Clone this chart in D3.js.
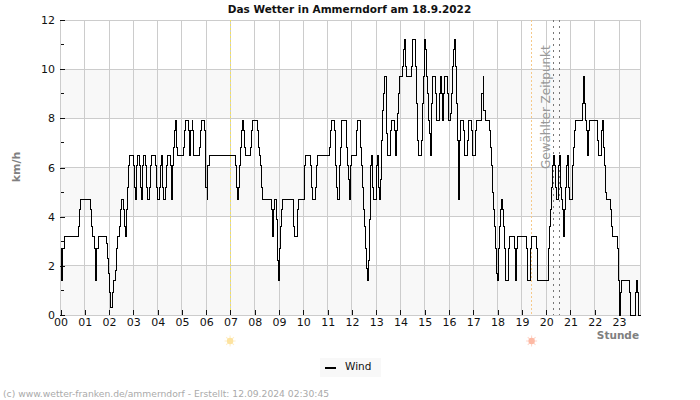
<!DOCTYPE html>
<html>
	<head>
		<meta charset="utf-8">
		<title>Das Wetter in Ammerndorf</title>
		<script src="https://d3js.org/d3.v7.min.js"></script>
		<style>
			html, body { margin: 0; padding: 0; background: #fff; }
			svg { display: block; }
			text { font-family: "DejaVu Sans", sans-serif; }
			line, path, rect { shape-rendering: crispEdges; }
		</style>
	</head>
	<body>
		<svg width="700" height="400"></svg>
		<script type="text/javascript">
		var hourLabels = ["00","01","02","03","04","05","06","07","08","09","10","11","12","13","14","15","16","17","18","19","20","21","22","23"];
		var yMajor = [0, 2, 4, 6, 8, 10, 12];
		var yMinor = [1, 3, 5, 7, 9, 11];
		var bands = [[0, 2], [4, 6], [8, 10]];
		var lastMinute = 1433;

		// wind readings: [minute of the day, km/h], one entry per change
		var wind = [
			[0,2.7],[3,1.4],[6,2.7],[9,3.2],[45,3.6],[46,4.3],[49,4.7],[74,4.3],[77,3.6],[79,3.2],[84,2.7],[87,1.4],[90,2.7],[94,3.2],
			[113,2.9],[116,2.3],[118,1.7],[121,0.9],[123,0.3],[128,0.9],[132,1.4],[136,1.8],[138,2.7],[141,3.2],[146,3.6],[148,4.3],[151,4.7],[156,4.3],[158,3.6],[161,3.2],[163,4.3],[166,5.2],[168,6.1],[171,6.5],
			[180,6.1],[183,5.2],[186,4.7],[188,6.1],[190,6.5],[195,6.1],[198,5.2],[200,4.7],[203,6.1],[205,6.5],[210,6.1],[213,5.2],[215,4.7],[220,5.2],[223,6.1],[225,6.5],[235,6.1],
			[238,5.2],[240,4.7],[245,5.2],[247,6.1],[250,6.5],[252,5.2],[255,4.7],[260,5.2],[262,6.1],[265,6.5],[272,6.1],[275,4.7],[277,6.1],[280,6.8],[282,7.5],[285,7.9],[287,6.8],[290,6.5],
			[305,6.8],[307,7.5],[310,7.9],[317,7.5],[319,6.5],[322,7.5],[325,7.9],[327,7.5],[329,6.5],[344,6.8],[347,7.5],[349,7.9],[357,7.5],[359,5.2],[362,4.7],[364,6.1],[367,6.5],
			[429,6.5],[432,6.1],[434,5.2],[437,4.7],[440,5.2],[442,6.1],[444,6.8],[447,7.5],[449,7.9],[452,7.5],[454,6.8],[457,6.5],[469,6.8],[472,7.5],[474,7.9],[486,7.5],[489,6.8],[491,6.5],[494,6.1],[496,5.2],[499,4.7],
			[521,4.3],[524,3.2],[526,4.3],[529,4.7],[534,3.9],[536,2.2],[539,1.4],[541,2.7],[543,3.6],[546,4.3],[548,4.7],[576,3.6],[578,3.2],[585,4.3],[588,4.7],
			[603,6.1],[605,6.5],[618,6.1],[620,5.2],[622,4.7],[630,5.2],[632,6.1],[635,6.5],[665,6.8],[667,7.5],[669,7.9],[677,7.5],[679,6.1],[682,5.2],[684,4.7],[690,6.1],[692,6.8],[694,7.9],
			[706,6.8],[709,6.1],[711,5.5],[714,4.7],[716,6.1],[719,6.5],[731,7.5],[734,7.9],[741,6.8],[744,6.1],[746,5.2],[749,4.3],[751,3.6],[754,2.7],[756,1.9],[759,1.4],[761,2.2],[763,3.9],[766,6.1],[768,6.5],[771,5.2],[773,4.7],
			[781,6.1],[783,6.5],[786,5.2],[788,4.7],[791,5.5],[792,7.1],[795,8.3],[797,9],[800,9.7],[805,7.4],[808,6.5],[815,7.5],[818,7.9],[825,7.5],[828,6.5],[830,7.5],[833,8.2],[835,9],[838,9.7],
			[845,10.1],[848,10.8],[850,11.2],[853,10.1],[855,9.7],[867,10.1],[870,11.2],[877,10.1],[880,8.6],[882,7.1],[885,6.5],[892,7.1],[895,8.6],[897,9.7],
			[900,11.2],[902,10.8],[905,9.7],[907,9],[910,7.9],[912,7.4],[915,6.5],[917,8.6],[920,9.7],[927,9],[929,7.9],[936,9],[939,9.7],[941,9],[944,7.9],[946,9],[949,9.7],[956,9],[958,7.9],
			[963,8.2],[966,9],[968,10.1],[971,10.8],[973,11.2],[976,10.1],[978,8.6],[981,7.1],[983,4.7],[986,7.1],[988,7.9],[996,7.5],[998,6.5],[1006,7.1],[1008,7.9],[1015,7.5],[1017,6.5],
			[1025,7.5],[1027,7.9],[1039,8.2],[1041,9],[1044,9.7],[1046,8.3],[1049,7.9],[1060,7.5],[1063,6.8],[1065,6.1],[1068,5],[1070,4.3],[1073,3.6],[1075,2.7],[1077,1.7],[1080,1.4],
			[1082,2.7],[1085,3.6],[1087,4.3],[1090,4.7],[1092,4.3],[1095,3.6],[1097,2.7],[1100,1.4],[1107,2.7],[1110,3.2],[1122,2.7],[1124,1.4],[1127,2.7],[1129,3.2],
			[1152,2.7],[1154,1.4],[1162,2.7],[1164,3.2],[1176,2.7],[1179,1.4],[1206,2.7],[1209,3.6],[1211,4.3],[1213,5.2],[1216,6.1],[1218,6.5],[1221,6.1],[1223,5.2],[1226,4.7],[1231,6.1],[1233,6.5],[1236,5.2],[1238,4.7],
			[1241,4.3],[1243,3.2],[1246,4.3],[1248,5.2],[1251,6.1],[1253,6.5],[1256,5.2],[1258,4.7],[1265,6.1],[1268,6.8],[1270,7.5],[1273,7.9],[1290,8.6],[1293,9.7],[1295,8.6],[1298,7.9],
			[1300,7.5],[1303,6.5],[1305,7.5],[1307,7.9],[1327,7.1],[1330,6.5],[1337,7.5],[1340,7.9],[1342,6.8],[1345,6.1],[1347,5],[1349,4.7],[1359,4.3],[1362,3.6],[1364,3.2],
			[1377,2.7],[1379,1.4],[1382,0],[1384,0.9],[1387,1.4],[1406,0.9],[1409,0],[1421,0.9],[1424,1.4],[1426,0.9],[1429,0],[1433,0]
		];

		var sunrise = 419, sunset = 1164;
		var selected = [1218, 1233];
		var sunRays = d3.range(0, 360, 45);

		var svg = d3.select("svg");
		var x = d3.scaleLinear().domain([0, lastMinute]).range([60.5, 640.5]);
		var y = d3.scaleLinear().domain([0, 12]).range([315, 20]);

		svg.selectAll("rect.band")
			.data(bands)
			.enter()
			.append("rect")
			.attr("class", "band")
			.attr("x", x(0))
			.attr("width", x(lastMinute) - x(0))
			.attr("y", function(d) { return y(d[1]); })
			.attr("height", function(d) { return y(d[0]) - y(d[1]); })
			.attr("fill", "#f8f8f8");

		var hourTicks = hourLabels.map(function(d, i) { return i * 60; });

		// grid
		svg.selectAll("line.gridx")
			.data(hourTicks)
			.enter()
			.append("line")
			.attr("class", "gridx")
			.attr("x1", function(d) { return x(d); })
			.attr("x2", function(d) { return x(d); })
			.attr("y1", y(12))
			.attr("y2", y(0))
			.attr("stroke", "#cccccc");

		svg.selectAll("line.gridy")
			.data(yMajor)
			.enter()
			.append("line")
			.attr("class", "gridy")
			.attr("x1", x(0))
			.attr("x2", x(lastMinute))
			.attr("y1", function(d) { return y(d); })
			.attr("y2", function(d) { return y(d); })
			.attr("stroke", "#cccccc");

		svg.append("rect")
			.attr("x", x(0))
			.attr("y", y(12))
			.attr("width", x(lastMinute) - x(0))
			.attr("height", y(0) - y(12))
			.attr("fill", "none")
			.attr("stroke", "#cccccc");

		// sunrise, sunset and selected time
		svg.append("line")
			.attr("x1", x(sunrise)).attr("x2", x(sunrise))
			.attr("y1", y(12)).attr("y2", y(0))
			.attr("stroke", "#f0e060")
			.attr("stroke-dasharray", "2,2");
		svg.append("line")
			.attr("x1", x(sunset)).attr("x2", x(sunset))
			.attr("y1", y(12)).attr("y2", y(0))
			.attr("stroke", "#f5c98a")
			.attr("stroke-dasharray", "2,2");
		svg.selectAll("line.selected")
			.data(selected)
			.enter()
			.append("line")
			.attr("class", "selected")
			.attr("x1", function(d) { return x(d); })
			.attr("x2", function(d) { return x(d); })
			.attr("y1", y(12))
			.attr("y2", y(0))
			.attr("stroke", "#777777")
			.attr("stroke-dasharray", "2,4");

		svg.append("text")
			.attr("transform", "translate(550,169) rotate(-90)")
			.attr("font-size", 12)
			.attr("fill", "#999999")
			.text("Gewählter Zeitpunkt");

		// axes
		var xAxis = d3.axisBottom(x)
			.tickValues(hourTicks)
			.tickSizeInner(-5)
			.tickSizeOuter(0)
			.tickFormat(function(d, i) { return hourLabels[i]; });
		var gx = svg.append("g").attr("transform", "translate(0,315)").call(xAxis);
		gx.select(".domain").remove();
		gx.selectAll("line").attr("stroke", "#111");
		gx.selectAll("text").attr("font-size", 11).attr("fill", "#111").attr("y", 3);

		var yAxis = d3.axisLeft(y)
			.tickValues(yMajor)
			.tickSizeInner(-5)
			.tickSizeOuter(0)
			.tickPadding(5);
		var gy = svg.append("g").attr("transform", "translate(60,0)").call(yAxis);
		gy.select(".domain").remove();
		gy.selectAll("line").attr("stroke", "#111");
		gy.selectAll("text").attr("font-size", 11).attr("fill", "#111");

		svg.selectAll("line.minor")
			.data(yMinor)
			.enter()
			.append("line")
			.attr("class", "minor")
			.attr("x1", x(0))
			.attr("x2", x(0) + 3)
			.attr("y1", function(d) { return y(d); })
			.attr("y2", function(d) { return y(d); })
			.attr("stroke", "#111");

		// wind line
		var line = d3.line()
			.x(function(d) { return x(d[0]); })
			.y(function(d) { return y(d[1]); })
			.curve(d3.curveStepAfter);

		svg.append("path")
			.datum(wind)
			.attr("d", line)
			.attr("fill", "none")
			.attr("stroke", "#000")
			.attr("stroke-width", 1);

		// sun symbols below the axis
		function drawSun(minute, color) {
			var g = svg.append("g").attr("transform", "translate(" + x(minute) + ",341)");
			g.selectAll("line")
				.data(sunRays)
				.enter()
				.append("line")
				.attr("x1", 0).attr("x2", 5.5)
				.attr("transform", function(d) { return "rotate(" + d + ")"; })
				.attr("stroke", color)
				.attr("stroke-opacity", 0.6)
				.style("shape-rendering", "auto");
			g.append("circle").attr("r", 3.2).attr("fill", color);
		}
		drawSun(sunrise, "#fde3a0");
		drawSun(sunset, "#fdb9a4");

		// texts
		svg.append("text")
			.attr("x", 349.5)
			.attr("y", 13)
			.attr("text-anchor", "middle")
			.attr("font-size", 10.5)
			.attr("font-weight", "bold")
			.attr("fill", "#111")
			.text("Das Wetter in Ammerndorf am 18.9.2022");

		svg.append("text")
			.attr("transform", "translate(20,167) rotate(-90)")
			.attr("text-anchor", "middle")
			.attr("font-size", 11)
			.attr("font-weight", "bold")
			.attr("fill", "#808080")
			.text("km/h");

		svg.append("text")
			.attr("x", 639)
			.attr("y", 339)
			.attr("text-anchor", "end")
			.attr("font-size", 10.5)
			.attr("font-weight", "bold")
			.attr("fill", "#808080")
			.text("Stunde");

		// legend
		svg.append("rect")
			.attr("x", 320).attr("y", 358)
			.attr("width", 61).attr("height", 19)
			.attr("fill", "#f8f8f8");
		svg.append("line")
			.attr("x1", 325).attr("x2", 336)
			.attr("y1", 368).attr("y2", 368)
			.attr("stroke", "#000")
			.attr("stroke-width", 2);
		svg.append("text")
			.attr("x", 345).attr("y", 370)
			.attr("font-size", 10.5)
			.attr("fill", "#111")
			.text("Wind");

		svg.append("text")
			.attr("x", 3).attr("y", 397)
			.attr("font-size", 9.2)
			.attr("fill", "#aaaaaa")
			.text("(c) www.wetter-franken.de/ammerndorf - Erstellt: 12.09.2024 02:30:45");
		</script>
	</body>
</html>
